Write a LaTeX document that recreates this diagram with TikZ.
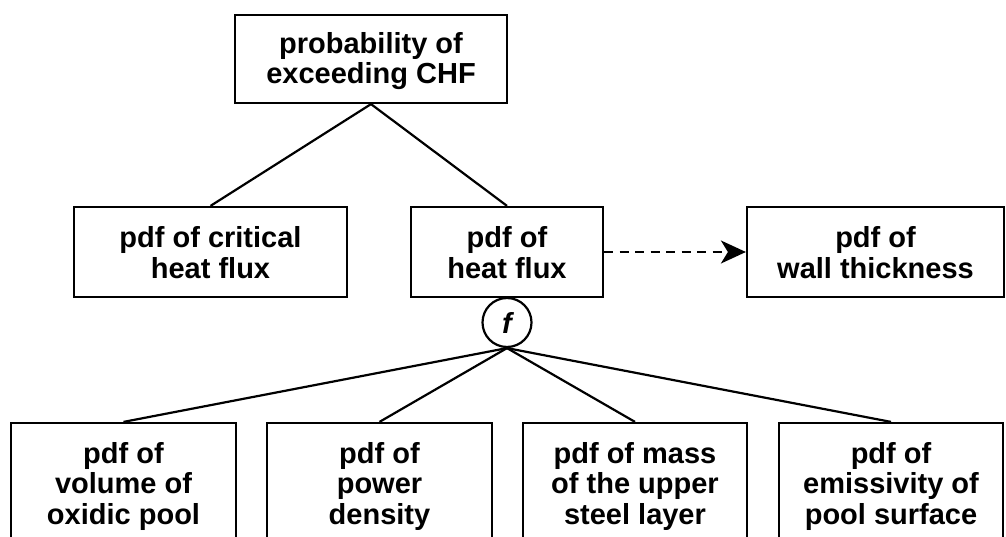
\documentclass[tikz,border=0pt]{standalone}
\usepackage{fontspec}
\setmainfont{Liberation Sans}
\usetikzlibrary{arrows.meta}
\begin{document}
\begin{tikzpicture}[x=1pt,y=-1pt,
  box/.style={draw,line width=2.2pt,inner sep=0pt,align=center,text depth=0pt,
    font=\bfseries\fontsize{29}{30.5}\selectfont},
  topbox/.style={box,text height=50pt,minimum height=88pt},
  midbox/.style={box,text height=52pt,minimum height=90pt},
  lowbox/.style={box,text height=62pt,minimum height=140pt},
  fcirc/.style={draw,circle,line width=2.2pt,inner sep=0pt,minimum size=49pt,font=\bfseries\itshape\fontsize{29}{30}\selectfont},
  link/.style={line width=2.2pt},
  dlink/.style={line width=2.2pt,dash pattern=on 9pt off 6.5pt,-{Stealth[length=25pt,width=23pt,inset=7pt]}}
]
\useasboundingbox (0,0) rectangle (1006,537);
\clip (0,0) rectangle (1006,537);
\node[topbox,minimum width=272pt] (top) at (371,59) {probability of\\exceeding CHF};
\node[midbox,minimum width=273pt] (crit) at (210.5,252) {pdf of critical\\heat flux};
\node[midbox,minimum width=192pt] (hf) at (507,252) {pdf of\\heat flux};
\node[midbox,minimum width=257pt] (wall) at (875.5,252) {pdf of\\wall thickness};
\node[fcirc] (f) at (507,322.5) {f};
\node[lowbox,minimum width=225pt] (b1) at (123.5,493) {pdf of\\volume of\\oxidic pool};
\node[lowbox,minimum width=225pt] (b2) at (379.5,493) {pdf of\\power\\density};
\node[lowbox,minimum width=224pt] (b3) at (635,493) {pdf of mass\\of the upper\\steel layer};
\node[lowbox,minimum width=224pt] (b4) at (891,493) {pdf of\\emissivity of\\pool surface};
\draw[link] (top.south) -- (crit.north);
\draw[link] (top.south) -- (hf.north);
\draw[dlink] (hf.east) -- (wall.west);
\foreach \b in {b1,b2,b3,b4} \draw[link] (f.south) -- (\b.north);
\end{tikzpicture}
\end{document}
